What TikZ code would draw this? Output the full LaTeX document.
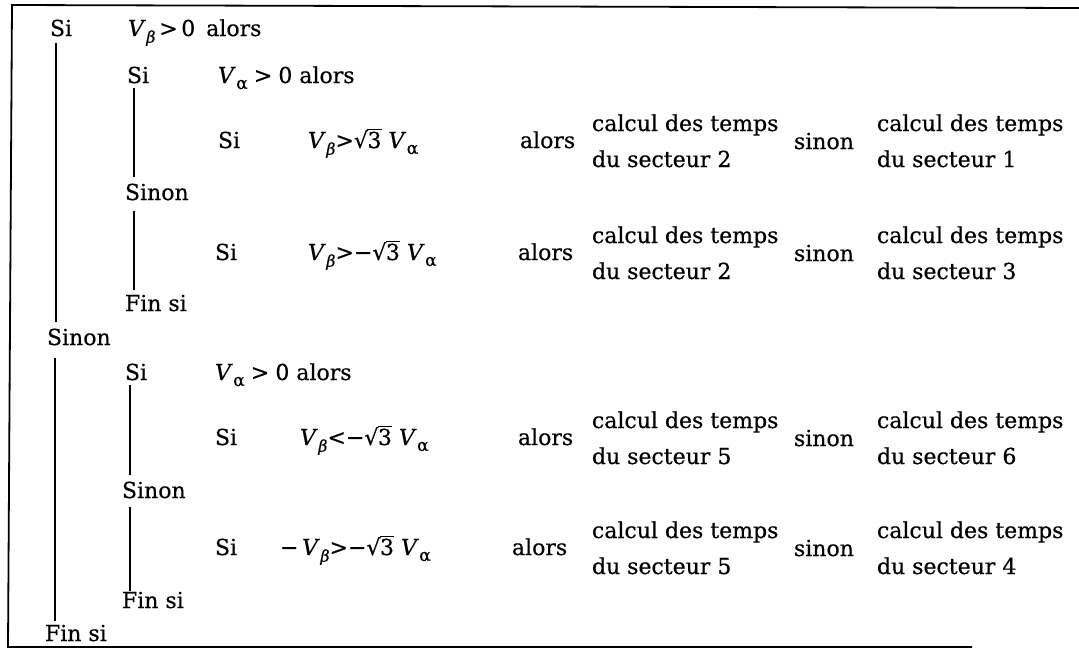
\documentclass[tikz,border=0pt]{standalone}
\usepackage{fontspec}
\setmainfont{DejaVu Serif}[FakeBold=0.5]
\usetikzlibrary{calc}
\newcommand{\Vb}{\textit{V}\kern0.5pt\raisebox{-0.3em}{\fontsize{16}{16}\selectfont\textit{β}}}
\newcommand{\Va}{\textit{V}\kern0.5pt\raisebox{-0.27em}{\fontsize{17}{17}\selectfont α}}
\newcommand{\rtt}{√\kern-0.5pt\rlap{\rule[0.80em]{0.64em}{0.06em}}3}
\begin{document}
\begin{tikzpicture}[x=1pt,y=-1pt,
  txt/.style={inner sep=0pt, outer sep=0pt, anchor=base west, font=\fontsize{22}{26}\selectfont},
  vline/.style={line width=1.4pt},
  frame/.style={line width=1.8pt}]
\useasboundingbox (0,0) rectangle (1079,648);
\draw[frame] (1079,8) -- (12,5) -- (8,647) -- (972,647);
% level 1
\node[txt] (si1) at (50,36) {Si};
\node[txt] (c1) at (128,36) {\Vb\,>\,0\hspace{0.5em}alors};
% level 2 upper
\node[txt] (si2) at (127,83) {Si};
\node[txt] (c2) at (218,83) {\Va\;>\;0 alors};
% row 3
\node[txt] (si3) at (218,148) {Si};
\node[txt] (c3) at (308,148) {\Vb>\rtt\ \Va};
\node[txt] (al3) at (520,148) {alors};
\node[txt] (b3a) at (592,131) {calcul des temps};
\node[txt] (b3b) at (592,167) {du secteur 2};
\node[txt] (sn3) at (794,149) {sinon};
\node[txt] (b3c) at (877,131) {calcul des temps};
\node[txt] (b3d) at (877,167) {du secteur 1};
\node[txt] (snA) at (125,200) {Sinon};
% row 4
\node[txt] (si4) at (215,260) {Si};
\node[txt] (c4) at (308,260) {\Vb>−\rtt\ \Va};
\node[txt] (al4) at (518,260) {alors};
\node[txt] (b4a) at (592,243) {calcul des temps};
\node[txt] (b4b) at (592,279) {du secteur 2};
\node[txt] (sn4) at (794,261) {sinon};
\node[txt] (b4c) at (877,243) {calcul des temps};
\node[txt] (b4d) at (877,279) {du secteur 3};
\node[txt] (finA) at (125,311) {Fin si};
% level 1 sinon
\node[txt] (sinon1) at (47,345) {Sinon};
% level 2 lower
\node[txt] (si5) at (125,380) {Si};
\node[txt] (c5) at (215,380) {\Va\;>\;0 alors};
% row 6
\node[txt] (si6) at (215,445) {Si};
\node[txt] (c6) at (300,445) {\Vb<−\rtt\ \Va};
\node[txt] (al6) at (518,445) {alors};
\node[txt] (b6a) at (592,428) {calcul des temps};
\node[txt] (b6b) at (592,464) {du secteur 5};
\node[txt] (sn6) at (794,446) {sinon};
\node[txt] (b6c) at (877,428) {calcul des temps};
\node[txt] (b6d) at (877,464) {du secteur 6};
\node[txt] (snB) at (122,498) {Sinon};
% row 7
\node[txt] (si7) at (215,555) {Si};
\node[txt] (c7) at (280,555) {−\,\Vb>−\rtt\ \Va};
\node[txt] (al7) at (512,555) {alors};
\node[txt] (b7a) at (592,538) {calcul des temps};
\node[txt] (b7b) at (592,574) {du secteur 5};
\node[txt] (sn7) at (794,556) {sinon};
\node[txt] (b7c) at (877,538) {calcul des temps};
\node[txt] (b7d) at (877,574) {du secteur 4};
\node[txt] (finB) at (122,608) {Fin si};
\node[txt] (fin1) at (45,641) {Fin si};
% vertical lines
\draw[vline] ($(si1.south west)+(6,7)$) -- ($(si1.south west |- sinon1.north)+(6,-7)$);
\draw[vline] ($(sinon1.south west)+(8,13)$) -- ($(sinon1.south west |- fin1.north)+(8,-4)$);
\draw[vline] ($(si2.south west)+(7,5)$) -- ($(si2.south west |- snA.north)+(7,-7)$);
\draw[vline] ($(snA.south west)+(9,11)$) -- ($(snA.south west |- finA.north)+(9,-5)$);
\draw[vline] ($(si5.south west)+(5,5)$) -- ($(si5.south west |- snB.north)+(5,-7)$);
\draw[vline] ($(snB.south west)+(8,9)$) -- ($(snB.south west |- finB.north)+(8,-1)$);
\end{tikzpicture}
\end{document}
